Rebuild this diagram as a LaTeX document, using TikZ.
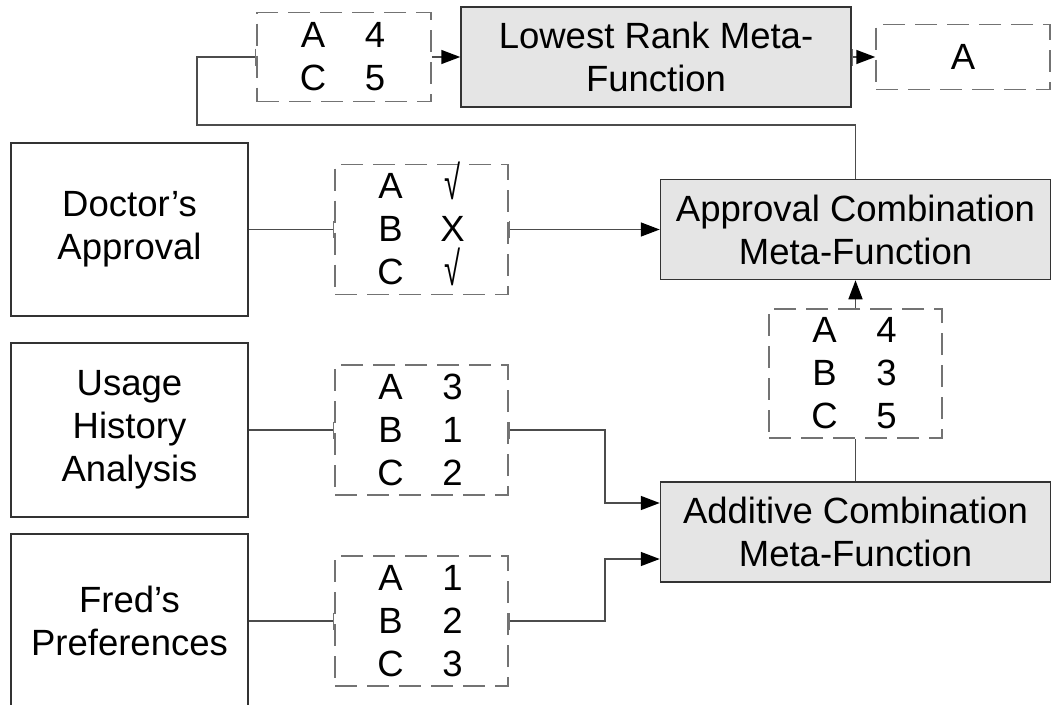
\documentclass[tikz,border=0pt]{standalone}
\usepackage{fontspec}
\usepackage{graphicx}
\setmainfont{Liberation Sans}
\usetikzlibrary{arrows.meta,calc}
\newcommand{\trow}[2]{\makebox[40pt]{#1}\hspace{22pt}\makebox[40pt]{#2}}
\newcommand{\chk}{\smash{\raisebox{-1pt}{\scalebox{0.8}[1.3]{√}}}}
\tikzset{
  tk/.tip={Bar[width=17pt,color=black!55]},
  tri/.tip={Triangle[length=19pt,width=14pt,color=black,fill=black]}
}
\begin{document}
\begin{tikzpicture}[x=1pt,y=-1pt,
  every node/.style={font=\fontsize{36.5}{43}\selectfont, inner sep=0pt, align=center},
  srcbox/.style={draw=black!80, line width=1.5pt, minimum width=237pt, minimum height=174pt},
  metabox/.style={draw=black!80, fill=black!10, line width=1.5pt, minimum width=390pt, minimum height=100pt},
  tablebox/.style={draw=black!55, line width=1.5pt, dash pattern=on 22pt off 10pt, minimum width=173pt, minimum height=130pt},
  conn/.style={draw=black!70, line width=1.5pt}
]
\useasboundingbox (0,0) rectangle (1054,704);

% source boxes
\node[srcbox, minimum height=173pt] (d) at (129.5,229.5) {Doctor’s\\Approval};
\node[srcbox] (u) at (129.5,430) {Usage\\History\\Analysis};
\node[srcbox] (f) at (129.5,621) {Fred’s\\Preferences};

% tables
\node[tablebox] (dT) at (421.5,229.5) {\trow{A}{\chk}\\\trow{B}{X}\\\trow{C}{\chk}};
\node[tablebox] (uT) at (421.5,430) {\trow{A}{3}\\\trow{B}{1}\\\trow{C}{2}};
\node[tablebox] (fT) at (421.5,621) {\trow{A}{1}\\\trow{B}{2}\\\trow{C}{3}};
\node[tablebox, minimum height=129pt] (mT) at (855.5,373.5) {\trow{A}{4}\\\trow{B}{3}\\\trow{C}{5}};
\node[tablebox, minimum width=174pt, minimum height=89pt] (tT) at (344,57) {\trow{A}{4}\\\trow{C}{5}};
\node[tablebox, minimum width=174pt, minimum height=65pt] (rT) at (963,57) {A};

% meta-function boxes
\node[metabox] (ap) at (855.5,229.5) {Approval Combination\\Meta-Function};
\node[metabox] (ad) at (855.5,532) {Additive Combination\\Meta-Function};
\node[metabox] (lo) at (656,57) {Lowest Rank Meta-\\Function};

\coordinate (fb) at (197,125);

% connectors
\draw[conn,-tk] (d.east) -- (dT.west);
\draw[conn,-tk] (u.east) -- (uT.west);
\draw[conn,-tk] (f.east) -- (fT.west);
\draw[conn,tk-tri] (dT.east) -- (ap.west);
\draw[conn,tk-tri] (uT.east) -- ++(96,0) |- ($(ad.west)+(0,-29)$);
\draw[conn,tk-tri] (fT.east) -- ++(96,0) |- ($(ad.west)+(0,27)$);
\draw[conn] (ad.north) -- (mT.south);
\draw[conn,-tri] (mT.north) -- (ap.south);
\draw[conn,-tk] (ap.north) |- (fb) |- (tT.west);
\draw[conn,-tri] (tT.east) -- (lo.west);
\draw[conn,tk-tri] (lo.east) -- (rT.west);
\end{tikzpicture}
\end{document}
